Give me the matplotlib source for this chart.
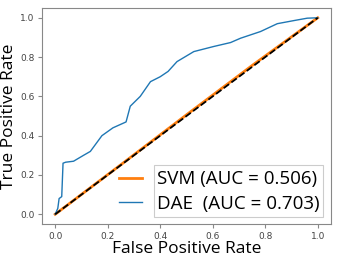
import matplotlib.pyplot as plt
from matplotlib.patches import Rectangle

# ROC curve points
dae_fpr = [0.0, 0.01, 0.015, 0.025, 0.03, 0.04, 0.07, 0.108, 0.134, 0.178, 0.22,
           0.27, 0.286, 0.324, 0.363, 0.40, 0.43, 0.464, 0.528, 0.604, 0.668,
           0.706, 0.782, 0.846, 0.91, 0.96, 1.0]
dae_tpr = [0.0, 0.03, 0.08, 0.09, 0.26, 0.265, 0.27, 0.30, 0.32, 0.40, 0.44,
           0.47, 0.55, 0.60, 0.675, 0.70, 0.727, 0.777, 0.828, 0.854, 0.874,
           0.896, 0.93, 0.97, 0.986, 0.998, 1.0]
svm_fpr = [0.0, 0.25, 0.5, 0.75, 1.0]
svm_tpr = [0.0, 0.252, 0.506, 0.757, 1.0]

labels = ['SVM (AUC = 0.506)', 'DAE  (AUC = 0.703)']

fig = plt.figure(figsize=(3.39, 2.57), dpi=100)
ax = fig.add_axes([0.124, 0.128, 0.852, 0.841])

ax.plot(svm_fpr, svm_tpr, color='#ff7f0e', lw=2.0, label=labels[0])
ax.plot(dae_fpr, dae_tpr, color='#1f77b4', lw=1.0, label=labels[1])
ax.plot([0, 1], [0, 1], 'k--', lw=1.3)

gray = '#888888'
for s in ax.spines.values():
    s.set_color(gray)
ax.tick_params(colors='#444444', labelsize=6.5, length=3, width=0.8, pad=2.5)
ax.tick_params(color=gray)
ax.set_xticks([0, 0.2, 0.4, 0.6, 0.8, 1.0])
ax.set_yticks([0, 0.2, 0.4, 0.6, 0.8, 1.0])

lab_font = dict(family='Open Sans', size=12.5)
ax.set_xlabel('False Positive Rate', fontdict=lab_font, labelpad=0)
ax.set_ylabel('True Positive Rate', fontdict=lab_font, labelpad=2)

leg = ax.legend(loc='lower right', frameon=False, prop={'family': 'Open Sans', 'size': 13.5},
                handlelength=1.2, handletextpad=0.8, labelspacing=0.35,
                borderaxespad=0.2)
# box around the legend texts only
ax.add_patch(Rectangle((0.389, 0.034), 0.583, 0.239, transform=ax.transAxes,
                       facecolor='white', edgecolor='#cccccc', lw=0.8, zorder=4))
leg.set_zorder(5)

fig.savefig('out.png', dpi=100)
